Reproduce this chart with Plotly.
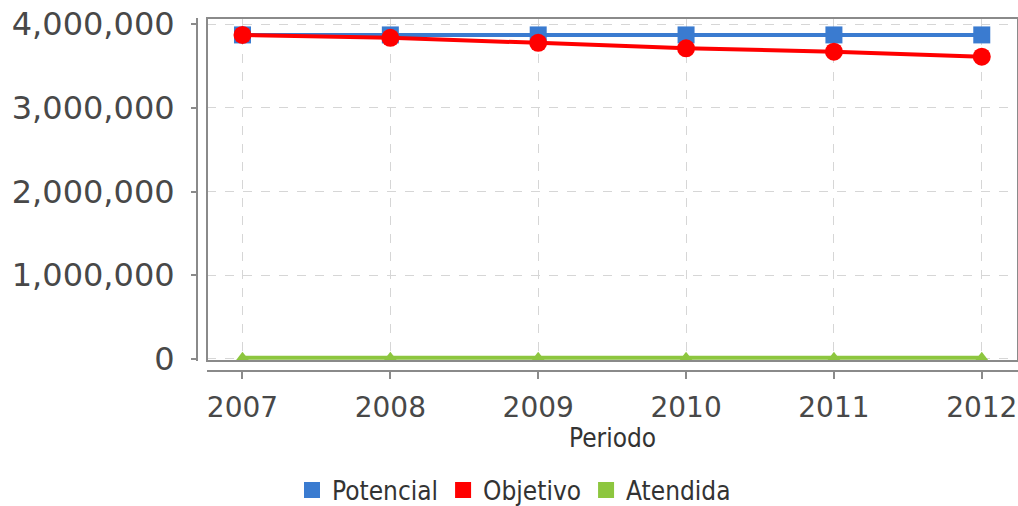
import plotly.graph_objects as go

years = [2007, 2008, 2009, 2010, 2011, 2012]
potencial = [3870000, 3870000, 3870000, 3870000, 3870000, 3870000]
objetivo = [3870000, 3835000, 3775000, 3710000, 3670000, 3610000]
atendida = [15000, 15000, 15000, 15000, 15000, 15000]
series_names = ["Potencial", "Objetivo", "Atendida"]
colors = ["#3a7bd0", "#ff0000", "#8dc63f"]
y_ticks = [0, 1000000, 2000000, 3000000, 4000000]
y_labels = ["0", "1,000,000", "2,000,000", "3,000,000", "4,000,000"]

fig = go.Figure()

fig.add_trace(go.Scatter(x=years, y=atendida, mode="lines+markers", name=series_names[2],
                         line=dict(color=colors[2], width=4),
                         marker=dict(symbol="triangle-up", size=12, color=colors[2]),
                         showlegend=False, hoverinfo="skip"))
fig.add_trace(go.Scatter(x=years, y=potencial, mode="lines+markers", name=series_names[0],
                         line=dict(color=colors[0], width=4),
                         marker=dict(symbol="square", size=17, color=colors[0]),
                         showlegend=False, hoverinfo="skip"))
fig.add_trace(go.Scatter(x=years, y=objetivo, mode="lines+markers", name=series_names[1],
                         line=dict(color=colors[1], width=4),
                         marker=dict(symbol="circle", size=18, color=colors[1]),
                         showlegend=False, hoverinfo="skip"))

for name, c in zip(series_names, colors):
    fig.add_trace(go.Scatter(x=[None], y=[None], mode="markers", name=name,
                             marker=dict(symbol="square", size=16, color=c),
                             showlegend=True))

W, H = 1018, 506
ml, mr, mt, mb = 197, 0, 18, 135
pw = W - ml - mr
ph = H - mt - mb

axis_col = "#8a8a8a"
text_col = "#484848"
cond = "DejaVu Sans Condensed, DejaVu Sans"

fig.update_layout(
    width=W, height=H,
    margin=dict(l=ml, r=mr, t=mt, b=mb, autoexpand=False),
    paper_bgcolor="white", plot_bgcolor="white",
    font=dict(family="DejaVu Sans", color=text_col),
    showlegend=True,
    legend=dict(orientation="h", x=(514 - ml) / pw, xanchor="center",
                y=(mt + ph - 490) / ph, yanchor="middle",
                font=dict(size=26, family=cond, color="#333333"),
                itemwidth=30, tracegroupgap=0, bgcolor="rgba(0,0,0,0)"),
    xaxis=dict(domain=[(207 - ml) / pw, 1], range=[2006.76, 2012.245],
               tickmode="array", tickvals=years, ticktext=[str(y) for y in years],
               showgrid=True, gridcolor="#d6d6d6", griddash="dash", gridwidth=1,
               zeroline=False, showline=True, linecolor=axis_col, linewidth=2,
               ticks="outside", ticklen=7, tickwidth=1.5, tickcolor=axis_col,
               anchor="free", position=0, automargin=False,
               tickfont=dict(size=28, color=text_col), ticklabelstandoff=4),
    yaxis=dict(domain=[10 / ph, 1], range=[-24000, 4072000],
               tickmode="array", tickvals=y_ticks, ticktext=y_labels,
               showgrid=True, gridcolor="#d6d6d6", griddash="dash", gridwidth=1,
               zeroline=False, showline=True, linecolor=axis_col, linewidth=2,
               ticks="outside", ticklen=5, tickwidth=1.5, tickcolor=axis_col,
               anchor="free", position=0, automargin=False,
               tickfont=dict(size=32, color=text_col), ticklabelstandoff=10),
    shapes=[dict(type="rect", xref="x domain", yref="y domain", x0=0, x1=1, y0=0, y1=1,
                 line=dict(color=axis_col, width=2), fillcolor="rgba(0,0,0,0)", layer="above")],
    annotations=[dict(text="Periodo", xref="x domain", x=0.5, yref="paper",
                      y=(mt + ph - 438) / ph, yanchor="middle", showarrow=False,
                      font=dict(size=26, family=cond, color="#333333"))],
)

fig.write_html("out.html", config={"displayModeBar": False},
               post_script="document.body.style.margin='0';document.body.style.overflow='hidden';")
